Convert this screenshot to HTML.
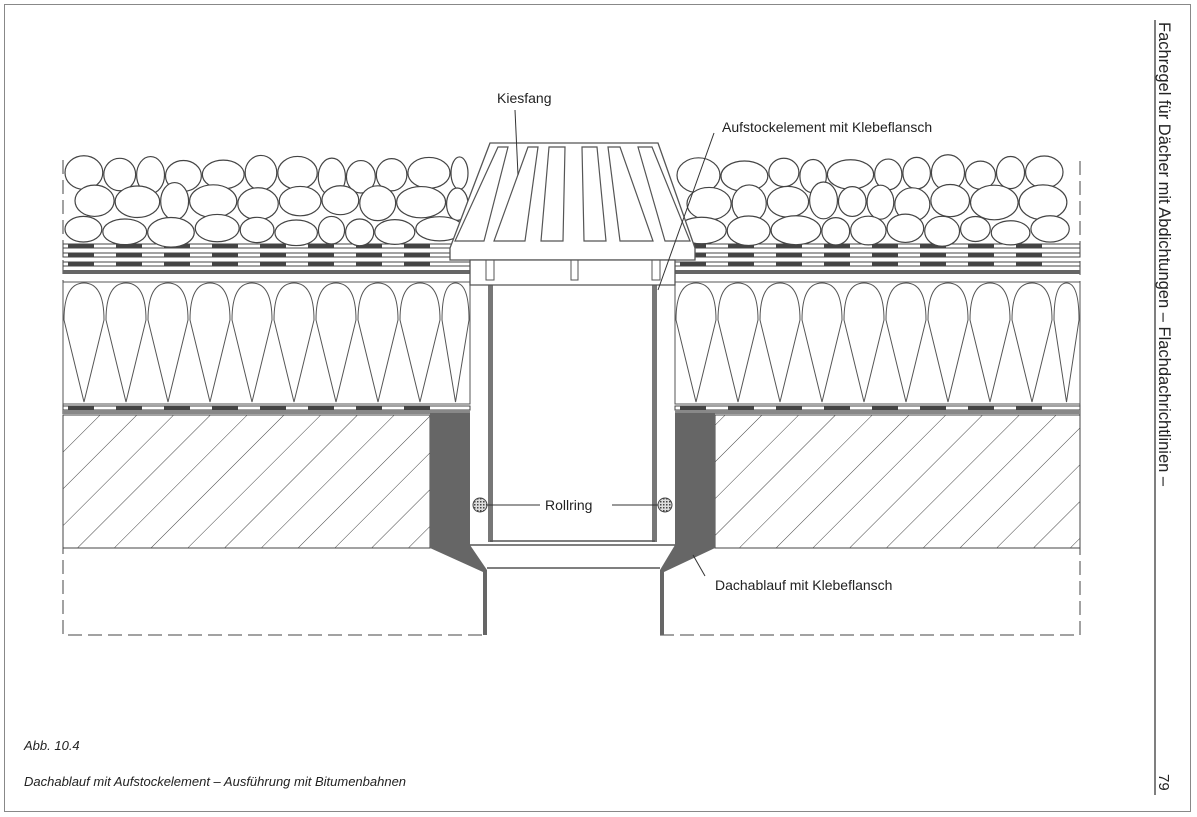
<!DOCTYPE html>
<html><head><meta charset="utf-8"><style>
html,body{margin:0;padding:0;background:#fff;}
svg{display:block;font-family:"Liberation Sans",sans-serif;}
</style></head><body>
<svg id="s" width="1197" height="817" viewBox="0 0 1197 817" xmlns="http://www.w3.org/2000/svg">
<defs>
<pattern id="h" width="26" height="26" patternUnits="userSpaceOnUse" patternTransform="rotate(45)">
<line x1="0" y1="0" x2="0" y2="26" stroke="#444" stroke-width="1"/>
</pattern>
<pattern id="x" width="3" height="3" patternUnits="userSpaceOnUse"><rect width="3" height="3" fill="#ddd"/><rect width="1.5" height="1.5" fill="#444"/></pattern>
</defs>
<rect x="4.5" y="4.5" width="1186" height="807" fill="none" stroke="#888"/>
<line x1="1155" y1="20" x2="1155" y2="795" stroke="#555" stroke-width="1.5"/>
<text transform="translate(1159,22) rotate(90)" font-size="16.5" fill="#222">Fachregel für Dächer mit Abdichtungen – Flachdachrichtlinien –</text>
<text transform="translate(1159,774) rotate(90)" font-size="15" fill="#222">79</text>
<text x="24" y="750" font-size="13" font-style="italic" fill="#222">Abb. 10.4</text>
<text x="24" y="786" font-size="13" font-style="italic" fill="#222">Dachablauf mit Aufstockelement – Ausführung mit Bitumenbahnen</text>

<path d="M63 160 V635 H487 M660 635 H1080 V160" fill="none" stroke="#444" stroke-dasharray="14 6"/>
<g id="g"></g>
<rect x="63" y="415" width="367" height="133" fill="url(#h)" stroke="#444"/>
<rect x="715" y="415" width="365" height="133" fill="url(#h)" stroke="#444"/>
<path d="M430 413 H470 V545 L487 570 V635 H483 V572 L430 548 Z" fill="#666"/>
<path d="M715 413 H675 V545 L660 570 V635 H664 V572 L715 548 Z" fill="#666"/>
<path d="M470 545 H675 M487 568 H660" stroke="#555" stroke-width="1.5" fill="none"/>
<rect x="488" y="285" width="5" height="257" fill="#777"/>
<rect x="652" y="285" width="5" height="257" fill="#777"/>
<line x1="490" y1="541" x2="655" y2="541" stroke="#555" stroke-width="1.5"/>
<circle cx="480" cy="505" r="7" fill="url(#x)" stroke="#444"/>
<circle cx="665" cy="505" r="7" fill="url(#x)" stroke="#444"/>
<path d="M490 143 H658 L695 248 V260 H450 V248 Z" fill="#fff" stroke="#555" stroke-width="1.3"/>
<path d="M470 260 H675 V285 H470 Z" fill="#fff" stroke="#555" stroke-width="1.3"/>
<path d="M486 260 V280 H494 V260 M571 260 V280 H578 V260 M652 260 V280 H660 V260" fill="none" stroke="#555"/>
<g fill="none" stroke="#555" stroke-width="1.2">
<path d="M498 147 H508 L484 241 H455 Z"/><path d="M528 147 H538 L525 241 H494 Z"/>
<path d="M549 147 H565 L563 241 H541 Z"/><path d="M582 147 H597 L606 241 H584 Z"/>
<path d="M608 147 H620 L653 241 H620 Z"/><path d="M638 147 H652 L690 241 H665 Z"/>
</g>
<text x="497" y="103" font-size="14" fill="#222">Kiesfang</text>
<line x1="515" y1="110" x2="518" y2="175" stroke="#333"/>
<text x="722" y="132" font-size="14" fill="#222">Aufstockelement mit Klebeflansch</text>
<line x1="714" y1="133" x2="658" y2="290" stroke="#333"/>
<text x="545" y="510" font-size="14" fill="#222">Rollring</text>
<line x1="487" y1="505" x2="540" y2="505" stroke="#333"/>
<line x1="612" y1="505" x2="658" y2="505" stroke="#333"/>
<text x="715" y="590" font-size="14" fill="#222">Dachablauf mit Klebeflansch</text>
<line x1="705" y1="576" x2="693" y2="555" stroke="#333"/>
</svg>
<script>
var g=document.getElementById('g'),o='';
function ins(x0,x1){for(var x=x0;x<x1-10;x+=42){var w=Math.min(42,x1-x);var c=x+w/2;
o+='<path d="M'+c+' 402 L'+(x+1)+' 320 Q'+(x+1)+' 283 '+c+' 283 Q'+(x+w-1)+' 283 '+(x+w-1)+' 320 Z" fill="none" stroke="#555"/>';}
o+='<rect x="'+x0+'" y="282" width="'+(x1-x0)+'" height="122" fill="none" stroke="#555"/>';}
ins(63,470);ins(675,1080);
function mem(x0,x1,y){o+='<rect x="'+x0+'" y="'+y+'" width="'+(x1-x0)+'" height="4" fill="#fff" stroke="#444" stroke-width="1"/>';
for(var x=x0+5;x<x1-20;x+=48)o+='<rect x="'+x+'" y="'+y+'" width="26" height="4" fill="#444"/>';}
mem(63,470,244);mem(63,470,253);mem(63,470,262);mem(63,470,406);
mem(675,1080,244);mem(675,1080,253);mem(675,1080,262);mem(675,1080,406);
o+='<rect x="63" y="270" width="407" height="4" fill="#666"/><rect x="675" y="270" width="405" height="4" fill="#666"/>';
o+='<rect x="63" y="410" width="407" height="4" fill="#888"/><rect x="675" y="410" width="405" height="4" fill="#888"/>';
var s=7;function r(){s=(s*9301+49297)%233280;return s/233280;}
function grav(x0,x1){for(var row=0;row<3;row++){var y=172+row*28;var x=x0+(row%2?10:0);
while(x<x1-14){var rx=13+r()*12,ry=14+r()*5;if(row==2)ry=12+r()*3;if(x+2*rx>x1)rx=(x1-x)/2;
o+='<ellipse cx="'+(x+rx)+'" cy="'+(y+r()*5)+'" rx="'+rx+'" ry="'+ry+'" fill="#fff" stroke="#444" stroke-width="1.2"/>';x+=2*rx+1;}}}
grav(65,468);grav(677,1078);
g.innerHTML=o;
</script>
</body></html>
